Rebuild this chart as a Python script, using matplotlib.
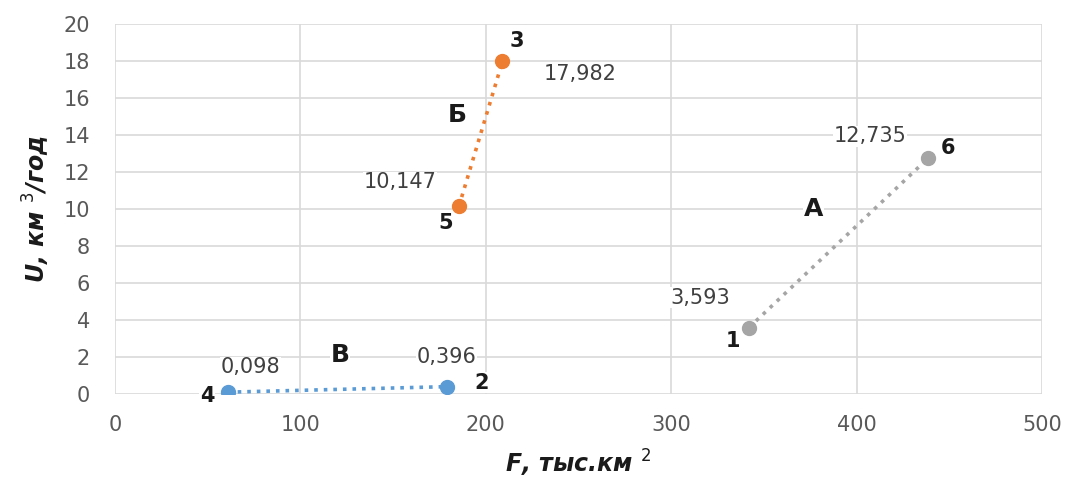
import numpy as np
import matplotlib.pyplot as plt

# --- données ---
series_names = ['В', 'Б', 'А']
series_colors = ['#5b9bd5', '#ed7d31', '#a5a5a5']
F_values = [[61, 179], [185.5, 209], [342, 438.5]]
U_values = [[0.098, 0.396], [10.147, 17.982], [3.593, 12.735]]
point_ids = [['4', '2'], ['5', '3'], ['1', '6']]
value_texts = [['0,098', '0,396'], ['10,147', '17,982'], ['3,593', '12,735']]

# décalages des étiquettes (pixels) : valeur puis numéro du point
value_offsets = [[(22, 25), (0, 30)], [(-59, 24), (78, -13)], [(-49, 30), (-58, 22)]]
id_offsets = [[(-21, -4), (35, 4)], [(-13, -17), (14, 20)], [(-16, -13), (20, 10)]]
name_pos = [(121.4, 2.1), (184.5, 15.1), (377, 10.0)]

xticks = [0, 100, 200, 300, 400, 500]
yticks = list(range(0, 21, 2))

fig = plt.figure(figsize=(10.82, 4.79), dpi=100)
ax = fig.add_axes([0.1063, 0.1775, 0.8567, 0.7725])

box = dict(facecolor='white', edgecolor='none', pad=0.5)
for i, name in enumerate(series_names):
    ax.plot(F_values[i], U_values[i], linestyle=':', linewidth=2.6, color=series_colors[i],
            marker='o', markersize=10, zorder=5)
    for j in range(2):
        ax.annotate(value_texts[i][j], (F_values[i][j], U_values[i][j]),
                    xytext=value_offsets[i][j], textcoords='offset pixels',
                    ha='center', va='center', fontsize=15, color='#404040',
                    bbox=box, zorder=4)
        ax.annotate(point_ids[i][j], (F_values[i][j], U_values[i][j]),
                    xytext=id_offsets[i][j], textcoords='offset pixels',
                    ha='center', va='center', fontsize=15, fontweight='bold',
                    color='#1a1a1a', bbox=box, zorder=4)
    ax.text(name_pos[i][0], name_pos[i][1], name, ha='center', va='center',
            fontsize=18, fontweight='bold', color='#1a1a1a', bbox=box, zorder=4)

ax.set_xlim(0, 500)
ax.set_ylim(0, 20)
ax.set_xticks(xticks)
ax.set_yticks(yticks)
ax.grid(True, color='#d9d9d9', linewidth=1.2, zorder=0)
ax.set_axisbelow(True)
for s in ax.spines.values():
    s.set_visible(False)
ax.tick_params(length=0, labelsize=15, labelcolor='#595959')
ax.tick_params(axis='x', pad=15)
ax.tick_params(axis='y', pad=18)

ax.set_xlabel('F, тыс.км $^2$', fontsize=17, fontweight='bold', fontstyle='italic',
              color='#1a1a1a', labelpad=9)
ax.set_ylabel('U, км $^3$/год', fontsize=17, fontweight='bold', fontstyle='italic',
              color='#1a1a1a', labelpad=8)

plt.savefig('out.png', dpi=100)
